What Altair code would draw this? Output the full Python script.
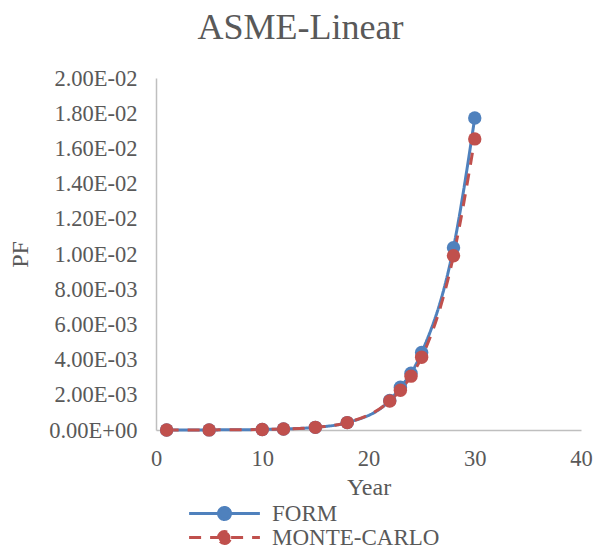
import altair as alt
import pandas as pd

years = [1, 5, 10, 12, 15, 18, 22, 23, 24, 25, 28, 30]
form_pf = [0.0, 0.000005, 0.00003, 0.00006, 0.00015, 0.00042, 0.00168, 0.00243, 0.00322, 0.0044, 0.01036, 0.01773]
mc_pf = [0.0, 0.000005, 0.00003, 0.00006, 0.00015, 0.00042, 0.00165, 0.00226, 0.00306, 0.00413, 0.0099, 0.01654]
series_names = ["FORM", "MONTE-CARLO"]
series_colors = ["#4F81BD", "#C0504D"]
x_ticks = [0, 10, 20, 30, 40]
y_ticks = [0.0, 0.002, 0.004, 0.006, 0.008, 0.010, 0.012, 0.014, 0.016, 0.018, 0.020]
y_labels = ["0.00E+00", "2.00E-03", "4.00E-03", "6.00E-03", "8.00E-03", "1.00E-02",
            "1.20E-02", "1.40E-02", "1.60E-02", "1.80E-02", "2.00E-02"]

rows = []
for name, vals in zip(series_names, [form_pf, mc_pf]):
    for yr, v in zip(years, vals):
        rows.append({"Year": yr, "PF": v, "series": name})
df = pd.DataFrame(rows)

FONT = "Liberation Serif"
TXT = "#595959"

label_expr = "[" + ",".join("'%s'" % s for s in y_labels) + "][indexof([" + ",".join(repr(v) for v in y_ticks) + "], datum.value)]"

# legend symbol: a line with a circle in the middle (unit = 6px with symbolSize 144)
sym_path = "M-5.9,0L5.9,0M-1,0A1,1,0,1,1,1,0A1,1,0,1,1,-1,0Z"

legend = alt.Legend(
    title=None, orient="none", legendX=57, legendY=424, direction="vertical",
    symbolType=sym_path, symbolSize=144, symbolStrokeWidth=3,
    labelFont=FONT, labelFontSize=23, labelColor=TXT, labelOffset=36, labelLimit=0,
    padding=0, rowPadding=-2,
)

x_enc = alt.X("Year:Q", scale=alt.Scale(domain=[0, 40], nice=False),
              axis=alt.Axis(values=x_ticks, title="Year", grid=False, ticks=False, tickSize=0,
                            labelPadding=17, titlePadding=6, format="d", labelFlush=False))
y_enc = alt.Y("PF:Q", scale=alt.Scale(domain=[0, 0.02], nice=False),
              axis=alt.Axis(values=y_ticks, title="PF", grid=False, ticks=False, tickSize=0,
                            labelPadding=19, labelExpr=label_expr, titlePadding=16))
color_enc = alt.Color("series:N", scale=alt.Scale(domain=series_names, range=series_colors),
                      sort=series_names, legend=legend)
dash_enc = alt.StrokeDash("series:N", scale=alt.Scale(domain=series_names, range=[[1, 0], [12, 9]]),
                          sort=series_names, legend=legend)

base = alt.Chart(df)
lines = base.mark_line(interpolate="monotone", strokeWidth=3).encode(
    x=x_enc, y=y_enc, color=color_enc, strokeDash=dash_enc, detail="series:N")
points = base.mark_circle(size=180, opacity=1).encode(
    x=x_enc, y=y_enc, color=color_enc)

chart = alt.layer(lines, points).properties(
    width=425, height=352,
    title=alt.TitleParams("ASME-Linear", font=FONT, fontSize=36, fontWeight="normal",
                          color=TXT, anchor="middle", dx=-68, offset=20),
    autosize=alt.AutoSizeParams(type="none"),
    padding={"left": 148, "top": 70, "right": 12, "bottom": 120},
).configure_view(stroke=None).configure_axis(
    labelFont=FONT, labelFontSize=22.5, labelColor=TXT,
    titleFont=FONT, titleFontSize=24, titleColor=TXT, titleFontWeight="normal",
    domainColor="#BFBFBF", domainWidth=1.5,
)

chart.save("out.html", embed_options={"renderer": "svg", "actions": False})
